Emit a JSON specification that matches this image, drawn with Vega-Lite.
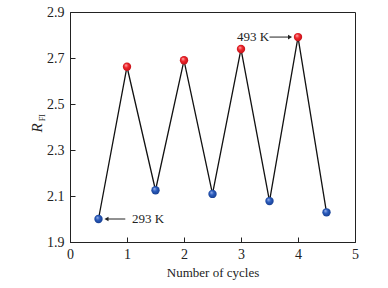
{
  "$schema": "https://vega.github.io/schema/vega-lite/v6.json",
  "width": 285,
  "height": 230,
  "autosize": {"type": "none"},
  "padding": {"left": 70, "top": 12, "right": 33, "bottom": 46},
  "background": "white",
  "config": {
    "view": {"stroke": "#222", "strokeWidth": 1},
    "font": "Liberation Serif",
    "axis": {"labelFont": "Liberation Serif", "titleFont": "Liberation Serif", "grid": false, "domainColor": "#222", "tickColor": "#222", "labelColor": "#222", "titleColor": "#222", "labelFontSize": 14, "titleFontSize": 13, "titleFontWeight": "normal"}
  },
  "datasets": {
    "pts": [
      {"cycle": 0.5, "rfi": 2.00, "temp": "low"},
      {"cycle": 1.0, "rfi": 2.662, "temp": "high"},
      {"cycle": 1.5, "rfi": 2.125, "temp": "low"},
      {"cycle": 2.0, "rfi": 2.69, "temp": "high"},
      {"cycle": 2.5, "rfi": 2.109, "temp": "low"},
      {"cycle": 3.0, "rfi": 2.739, "temp": "high"},
      {"cycle": 3.5, "rfi": 2.078, "temp": "low"},
      {"cycle": 4.0, "rfi": 2.791, "temp": "high"},
      {"cycle": 4.5, "rfi": 2.029, "temp": "low"}
    ],
    "notes": [
      {"label": "293 K", "tx": 1.37, "y": 2.0, "a0": 0.97, "a1": 0.64, "hx": 0.64, "dir": "left"},
      {"label": "493 K", "tx": 3.21, "y": 2.791, "a0": 3.5, "a1": 3.86, "hx": 3.86, "dir": "right"}
    ],
    "ytitle": [
      {"t": "R", "x": -0.58, "y": 2.396, "part": "main"},
      {"t": "FI", "x": -0.475, "y": 2.44, "part": "sub"}
    ]
  },
  "layer": [
    {
      "data": {"name": "pts"},
      "mark": {"type": "line", "color": "#111", "strokeWidth": 1.3},
      "encoding": {
        "x": {"field": "cycle", "type": "quantitative", "scale": {"domain": [0, 5], "nice": false}, "axis": {"title": "Number of cycles", "values": [0, 1, 2, 3, 4, 5], "format": "d", "tickSize": -5, "labelPadding": 10, "titlePadding": 5, "labelFlush": false}},
        "y": {"field": "rfi", "type": "quantitative", "scale": {"domain": [1.9, 2.9], "nice": false, "zero": false}, "axis": {"title": null, "values": [1.9, 2.1, 2.3, 2.5, 2.7, 2.9], "format": ".1f", "tickSize": -5, "labelPadding": 11, "labelFlush": false}}
      }
    },
    {
      "data": {"name": "pts"},
      "transform": [{"filter": "datum.temp === 'low'"}],
      "mark": {"type": "point", "shape": "circle", "size": 70, "filled": true, "opacity": 1,
        "fill": {"gradient": "radial", "x1": 0.35, "y1": 0.3, "r1": 0, "x2": 0.5, "y2": 0.5, "r2": 0.55,
          "stops": [{"offset": 0, "color": "#9fb8ee"}, {"offset": 0.45, "color": "#2a5bbd"}, {"offset": 1, "color": "#163d8c"}]}},
      "encoding": {"x": {"field": "cycle", "type": "quantitative"}, "y": {"field": "rfi", "type": "quantitative"}}
    },
    {
      "data": {"name": "pts"},
      "transform": [{"filter": "datum.temp === 'high'"}],
      "mark": {"type": "point", "shape": "circle", "size": 70, "filled": true, "opacity": 1,
        "fill": {"gradient": "radial", "x1": 0.35, "y1": 0.3, "r1": 0, "x2": 0.5, "y2": 0.5, "r2": 0.55,
          "stops": [{"offset": 0, "color": "#ffc0c0"}, {"offset": 0.45, "color": "#f0262b"}, {"offset": 1, "color": "#c01018"}]}},
      "encoding": {"x": {"field": "cycle", "type": "quantitative"}, "y": {"field": "rfi", "type": "quantitative"}}
    },
    {
      "data": {"name": "notes"},
      "mark": {"type": "rule", "color": "#222", "strokeWidth": 1},
      "encoding": {"x": {"field": "a0", "type": "quantitative"}, "x2": {"field": "a1"}, "y": {"field": "y", "type": "quantitative"}}
    },
    {
      "data": {"name": "notes"},
      "mark": {"type": "point", "filled": true, "size": 22, "color": "#222", "opacity": 1},
      "encoding": {
        "x": {"field": "hx", "type": "quantitative"},
        "y": {"field": "y", "type": "quantitative"},
        "shape": {"field": "dir", "type": "nominal", "scale": {"domain": ["left", "right"], "range": ["triangle-left", "triangle-right"]}, "legend": null}
      }
    },
    {
      "data": {"name": "notes"},
      "mark": {"type": "text", "font": "Liberation Serif", "fontSize": 13, "color": "#222", "align": "center", "baseline": "middle"},
      "encoding": {"x": {"field": "tx", "type": "quantitative"}, "y": {"field": "y", "type": "quantitative"}, "text": {"field": "label"}}
    },
    {
      "data": {"name": "ytitle"},
      "transform": [{"filter": "datum.part === 'main'"}],
      "mark": {"type": "text", "font": "Liberation Serif", "fontSize": 15, "fontStyle": "italic", "angle": 270, "color": "#222", "align": "center", "baseline": "middle"},
      "encoding": {"x": {"field": "x", "type": "quantitative"}, "y": {"field": "y", "type": "quantitative"}, "text": {"field": "t"}}
    },
    {
      "data": {"name": "ytitle"},
      "transform": [{"filter": "datum.part === 'sub'"}],
      "mark": {"type": "text", "font": "Liberation Serif", "fontSize": 8, "angle": 270, "color": "#222", "align": "center", "baseline": "middle"},
      "encoding": {"x": {"field": "x", "type": "quantitative"}, "y": {"field": "y", "type": "quantitative"}, "text": {"field": "t"}}
    }
  ]
}
